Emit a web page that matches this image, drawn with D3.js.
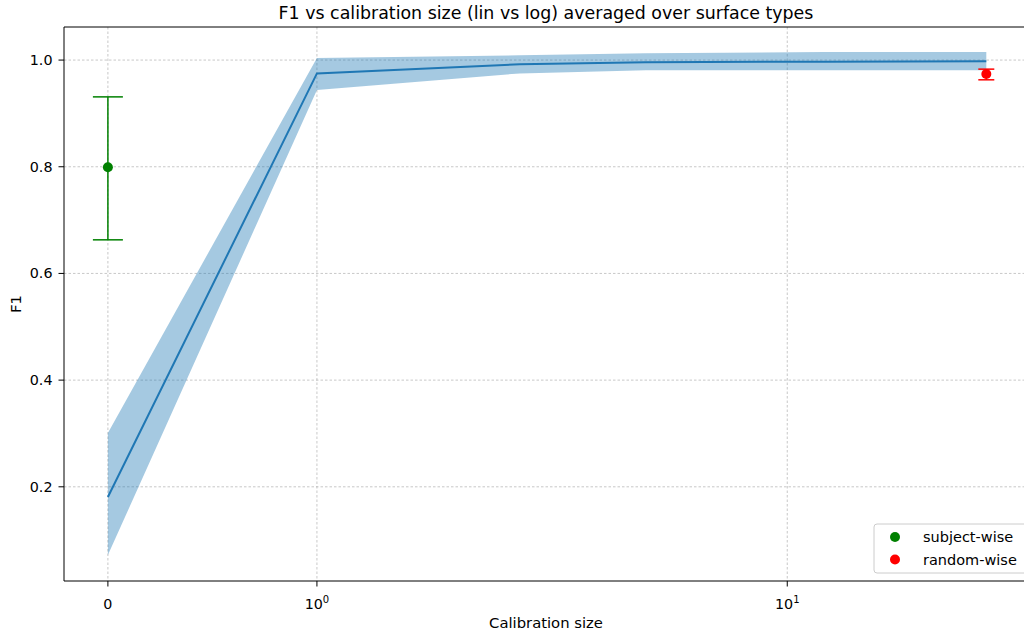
<!DOCTYPE html>
<html>
<head>
<meta charset="utf-8">
<script src="https://cdn.jsdelivr.net/npm/d3@7"></script>
<style>
  html, body { margin: 0; padding: 0; background: #fff; }
  svg { display: block; font-family: "DejaVu Sans", sans-serif; }
</style>
</head>
<body>
<div id="chart"></div>
<script>
// calibration curve (mean F1 and spread band)
const calibSizes = [0, 1, 2.7, 5, 12, 26.5];
const f1Mean  = [0.181, 0.975, 0.992, 0.996, 0.997, 0.998];
const f1Upper = [0.301, 1.004, 1.009, 1.013, 1.015, 1.015];
const f1Lower = [0.072, 0.944, 0.975, 0.981, 0.981, 0.981];

// baselines: [x, mean, low, high]
const subjectWise = [0, 0.799, 0.663, 0.931];
const randomWise = [26.5, 0.974, 0.963, 0.983];

const yTicks = [0.2, 0.4, 0.6, 0.8, 1.0];
const xTicks = [0, 1, 10];

const W = 1024, H = 635;
const pL = 64, pR = 1028, pT = 27, pB = 581;

// symlog-ish: linear below 1, log above
const linscale = 0.4 / 0.9;
const symlog = v => Math.abs(v) <= 1 ? v * linscale : Math.sign(v) * (linscale + Math.log10(Math.abs(v)));

const xLin = d3.scaleLinear().domain([symlog(-0.21), symlog(32.5)]).range([pL, pR]);
const x = v => xLin(symlog(v));
const y = d3.scaleLinear().domain([0.0234, 1.062]).range([pB, pT]);

const svg = d3.select('#chart').append('svg')
  .attr('width', W).attr('height', H);

svg.append('defs').append('clipPath').attr('id', 'clip')
  .append('rect').attr('x', pL).attr('y', pT).attr('width', pR - pL).attr('height', pB - pT);

// grid
const grid = svg.append('g').attr('stroke', '#b0b0b0').attr('stroke-width', 0.7)
  .attr('stroke-dasharray', '2.5,2').attr('fill', 'none');
yTicks.forEach(t => grid.append('line')
  .attr('x1', pL).attr('x2', pR).attr('y1', y(t)).attr('y2', y(t)));
xTicks.forEach(t => grid.append('line')
  .attr('x1', x(t)).attr('x2', x(t)).attr('y1', pT).attr('y2', pB));

const plot = svg.append('g').attr('clip-path', 'url(#clip)');

const pts = calibSizes.map((c, i) => ({ c, m: f1Mean[i], lo: f1Lower[i], hi: f1Upper[i] }));

plot.append('path').datum(pts)
  .attr('fill', '#1f77b4').attr('fill-opacity', 0.4)
  .attr('d', d3.area().x(d => x(d.c)).y0(d => y(d.lo)).y1(d => y(d.hi)));

plot.append('path').datum(pts)
  .attr('fill', 'none').attr('stroke', '#1f77b4').attr('stroke-width', 2)
  .attr('d', d3.line().x(d => x(d.c)).y(d => y(d.m)));

function errPoint(p, color, cap) {
  const g = plot.append('g').attr('stroke', color).attr('stroke-width', 1.5);
  const cx = x(p[0]);
  g.append('line').attr('x1', cx).attr('x2', cx).attr('y1', y(p[2])).attr('y2', y(p[3]));
  g.append('line').attr('x1', cx - cap).attr('x2', cx + cap).attr('y1', y(p[2])).attr('y2', y(p[2]));
  g.append('line').attr('x1', cx - cap).attr('x2', cx + cap).attr('y1', y(p[3])).attr('y2', y(p[3]));
  plot.append('circle').attr('cx', cx).attr('cy', y(p[1])).attr('r', 5).attr('fill', color);
}
errPoint(subjectWise, '#008000', 15);
errPoint(randomWise, '#ff0000', 8);

// spines
const ax = svg.append('g').attr('stroke', '#000').attr('stroke-width', 1).attr('fill', 'none');
ax.append('line').attr('x1', pL).attr('x2', pL).attr('y1', pT).attr('y2', pB);
ax.append('line').attr('x1', pL).attr('x2', pR).attr('y1', pB).attr('y2', pB);
ax.append('line').attr('x1', pL).attr('x2', pR).attr('y1', pT).attr('y2', pT);

// y ticks
yTicks.forEach(t => {
  svg.append('line').attr('x1', pL - 5.5).attr('x2', pL).attr('y1', y(t)).attr('y2', y(t))
    .attr('stroke', '#000');
  svg.append('text').attr('x', pL - 11.5).attr('y', y(t)).attr('dy', '0.35em')
    .attr('text-anchor', 'end').attr('font-size', 14.3).text(d3.format('.1f')(t));
});

// x ticks
xTicks.forEach(t => {
  svg.append('line').attr('x1', x(t)).attr('x2', x(t)).attr('y1', pB).attr('y2', pB + 5.5)
    .attr('stroke', '#000');
  const tx = svg.append('text').attr('x', x(t)).attr('y', pB + 28)
    .attr('text-anchor', 'middle').attr('font-size', 14.3);
  if (t === 0) tx.text('0');
  else {
    tx.append('tspan').text('10');
    tx.append('tspan').attr('font-size', 10).attr('dy', -6).text(Math.round(Math.log10(t)));
  }
});

// labels
svg.append('text').attr('x', (pL + pR) / 2).attr('y', 628)
  .attr('text-anchor', 'middle').attr('font-size', 14.8).text('Calibration size');
svg.append('text').attr('transform', `translate(21,${(pT + pB) / 2}) rotate(-90)`)
  .attr('text-anchor', 'middle').attr('font-size', 14.8).text('F1');
svg.append('text').attr('x', (pL + pR) / 2).attr('y', 19)
  .attr('text-anchor', 'middle').attr('font-size', 17.4).text('F1 vs calibration size (lin vs log) averaged over surface types');

// legend
const legendItems = [['subject-wise', '#008000'], ['random-wise', '#ff0000']];
const lg = svg.append('g').attr('transform', 'translate(874,524)');
lg.append('rect').attr('width', 160).attr('height', 49).attr('rx', 3)
  .attr('fill', '#fff').attr('fill-opacity', 0.8).attr('stroke', '#cccccc');
legendItems.forEach(([name, color], i) => {
  lg.append('circle').attr('cx', 21).attr('cy', 13 + i * 22.5).attr('r', 5).attr('fill', color);
  lg.append('text').attr('x', 49).attr('y', 13 + i * 22.5).attr('dy', '0.35em')
    .attr('font-size', 14.5).text(name);
});
</script>
</body>
</html>
